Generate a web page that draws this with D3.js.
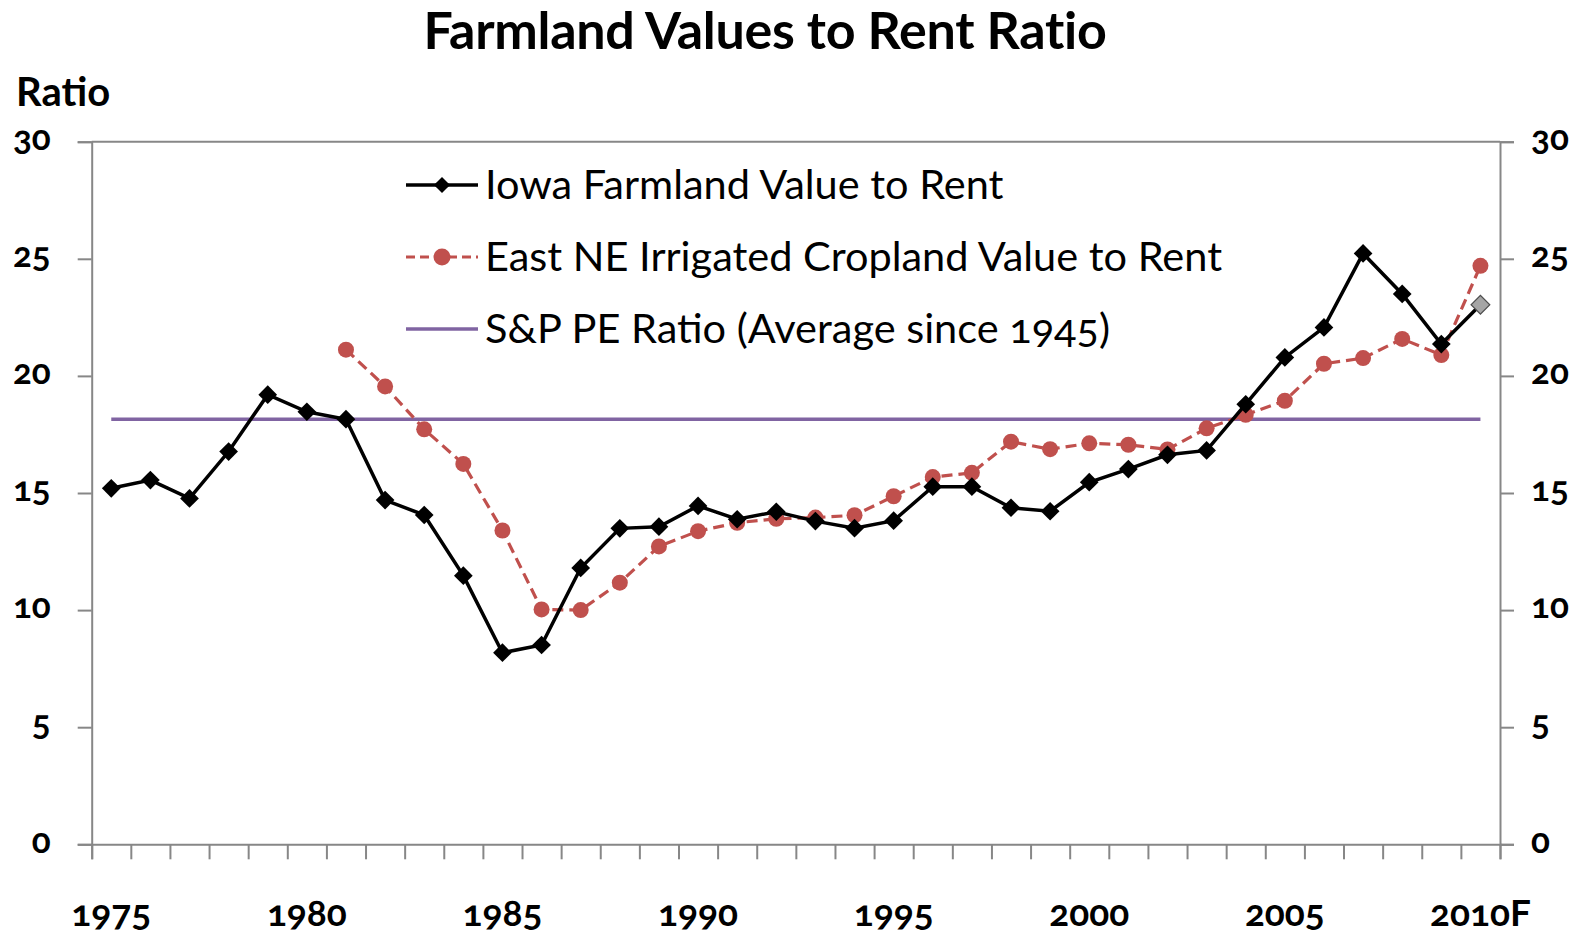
<!DOCTYPE html>
<html>
<head>
<meta charset="utf-8">
<script src="https://cdn.jsdelivr.net/npm/d3@7"></script>
<style>
  body { margin: 0; background: #fff; }
  svg { font-family: Lato, "Open Sans", sans-serif; }
  .num { font-feature-settings: "onum" 1; font-variant-numeric: oldstyle-nums; }
</style>
</head>
<body>
<div id="chart"></div>
<script>
// categories (x axis)
var years = ["1975","1976","1977","1978","1979","1980","1981","1982","1983","1984",
             "1985","1986","1987","1988","1989","1990","1991","1992","1993","1994",
             "1995","1996","1997","1998","1999","2000","2001","2002","2003","2004",
             "2005","2006","2007","2008","2009","2010F"];
var yearLabels = ["1975","1980","1985","1990","1995","2000","2005","2010F"];

// Iowa farmland value to rent
var iowa = [15.2, 15.55, 14.77, 16.77, 19.2, 18.47, 18.15, 14.7, 14.06, 11.47,
            8.18, 8.51, 11.8, 13.49, 13.56, 14.45, 13.88, 14.2, 13.8, 13.5,
            13.82, 15.27, 15.27, 14.37, 14.22, 15.46, 16.02, 16.63, 16.82, 18.79,
            20.79, 22.07, 25.23, 23.5, 21.36, 23.04];

// East NE irrigated cropland value to rent (starts 1981)
var eastNE = [null, null, null, null, null, null, 21.12, 19.55, 17.72, 16.24,
              13.4, 10.03, 10.0, 11.17, 12.72, 13.37, 13.73, 13.9, 13.95, 14.05,
              14.86, 15.68, 15.86, 17.19, 16.87, 17.12, 17.06, 16.86, 17.76, 18.34,
              18.94, 20.52, 20.76, 21.58, 20.89, 24.7];

// S&P PE ratio, average since 1945
var spAverage = 18.15;

var yTicks = [0, 5, 10, 15, 20, 25, 30];
var seriesNames = ["Iowa Farmland Value to Rent",
                   "East NE Irrigated Cropland Value to Rent",
                   "S&P PE Ratio (Average since 1945)"];

var W = 1596, H = 935;
var plotL = 91.7, plotR = 1500, plotT = 141.7, plotB = 844.3;

var svg = d3.select("#chart").append("svg")
  .attr("width", W).attr("height", H);

var x = d3.scaleBand().domain(years).range([plotL, plotR]).padding(0);
var cx = function(i) { return x(years[i]) + x.bandwidth() / 2; };
var y = d3.scaleLinear().domain([0, 30]).range([plotB, plotT]);
var xEdge = d3.scaleLinear().domain([0, years.length]).range([plotL, plotR]);

// title
svg.append("text")
  .attr("x", 765).attr("y", 49)
  .attr("text-anchor", "middle")
  .style("font-size", "52px").style("font-weight", "bold")
  .style("letter-spacing", "-0.3px")
  .text("Farmland Values to Rent Ratio");

svg.append("text")
  .attr("x", 16).attr("y", 106)
  .style("font-size", "40px").style("font-weight", "bold")
  .text("Ratio");

// axes
var axisColor = "#878787";

var gl = svg.append("g").attr("transform", "translate(" + plotL + ",0)")
  .call(d3.axisLeft(y).tickValues(yTicks).tickSize(14).tickPadding(27));
var gr = svg.append("g").attr("transform", "translate(" + plotR + ",0)")
  .call(d3.axisRight(y).tickValues(yTicks).tickSize(14).tickPadding(17));
var gb = svg.append("g").attr("transform", "translate(0," + plotB + ")")
  .call(d3.axisBottom(xEdge).tickValues(d3.range(0, years.length + 1)).tickSize(15).tickFormat(""));

[gl, gr, gb].forEach(function(g) {
  g.select(".domain").attr("stroke", axisColor).attr("stroke-width", 2);
  g.selectAll(".tick line").attr("stroke", axisColor).attr("stroke-width", 2);
  g.selectAll(".tick text")
    .attr("class", "num")
    .attr("fill", "#000")
    .style("font-size", "35px").style("font-weight", "bold")
    .style("font-family", "Lato, sans-serif");
});
gl.selectAll(".tick text").attr("dy", "0.22em");
gr.selectAll(".tick text").attr("dy", "0.22em");

// top border of plot area
svg.append("line")
  .attr("x1", plotL).attr("x2", plotR)
  .attr("y1", plotT).attr("y2", plotT)
  .attr("stroke", axisColor).attr("stroke-width", 2);

// x labels
svg.append("g").selectAll("text")
  .data(yearLabels)
  .enter().append("text")
  .attr("class", "num")
  .attr("x", function(d) { return x(d) + x.bandwidth() / 2; })
  .attr("y", 926)
  .attr("text-anchor", "middle")
  .style("font-size", "37px").style("font-weight", "bold")
  .text(function(d) { return d; });

// S&P average line
svg.append("line")
  .attr("x1", cx(0)).attr("x2", cx(years.length - 1))
  .attr("y1", y(spAverage)).attr("y2", y(spAverage))
  .attr("stroke", "#8064A2").attr("stroke-width", 3.5);

// East NE dashed line
var line = d3.line()
  .defined(function(d) { return d != null; })
  .x(function(d, i) { return cx(i); })
  .y(function(d) { return y(d); });

svg.append("path")
  .datum(eastNE)
  .attr("d", line)
  .attr("fill", "none")
  .attr("stroke", "#C0504D").attr("stroke-width", 3.2)
  .attr("stroke-dasharray", "11,6");

svg.append("g").selectAll("circle")
  .data(eastNE.map(function(v, i) { return {v: v, i: i}; }).filter(function(d) { return d.v != null; }))
  .enter().append("circle")
  .attr("cx", function(d) { return cx(d.i); })
  .attr("cy", function(d) { return y(d.v); })
  .attr("r", 8)
  .attr("fill", "#C0504D");

// Iowa solid line
svg.append("path")
  .datum(iowa)
  .attr("d", line)
  .attr("fill", "none")
  .attr("stroke", "#000").attr("stroke-width", 3.5);

var diamond = d3.symbol().type(d3.symbolSquare).size(175);
svg.append("g").selectAll("path")
  .data(iowa)
  .enter().append("path")
  .attr("d", diamond)
  .attr("transform", function(d, i) { return "translate(" + cx(i) + "," + y(d) + ") rotate(45)"; })
  .attr("fill", function(d, i) { return i === iowa.length - 1 ? "#A5A5A5" : "#000"; })
  .attr("stroke", function(d, i) { return i === iowa.length - 1 ? "#4D4D4D" : "none"; })
  .attr("stroke-width", 1.2);

// legend
var legend = svg.append("g");
var lx1 = 406, lx2 = 478, lrows = [185, 257, 329];

legend.append("line").attr("x1", lx1).attr("x2", lx2).attr("y1", lrows[0]).attr("y2", lrows[0])
  .attr("stroke", "#000").attr("stroke-width", 3.5);
legend.append("path").attr("d", d3.symbol().type(d3.symbolSquare).size(130))
  .attr("transform", "translate(" + (lx1 + lx2) / 2 + "," + lrows[0] + ") rotate(45)")
  .attr("fill", "#000");

legend.append("line").attr("x1", lx1).attr("x2", lx2).attr("y1", lrows[1]).attr("y2", lrows[1])
  .attr("stroke", "#C0504D").attr("stroke-width", 3.2).attr("stroke-dasharray", "9,5");
legend.append("circle").attr("cx", (lx1 + lx2) / 2).attr("cy", lrows[1]).attr("r", 8.5)
  .attr("fill", "#C0504D");

legend.append("line").attr("x1", lx1).attr("x2", lx2).attr("y1", lrows[2]).attr("y2", lrows[2])
  .attr("stroke", "#8064A2").attr("stroke-width", 3.5);

legend.selectAll("text.lbl")
  .data(seriesNames)
  .enter().append("text")
  .attr("class", "lbl num")
  .attr("x", 485)
  .attr("y", function(d, i) { return lrows[i] + 14; })
  .style("font-size", "41.5px")
  .text(function(d) { return d; });
</script>
</body>
</html>
